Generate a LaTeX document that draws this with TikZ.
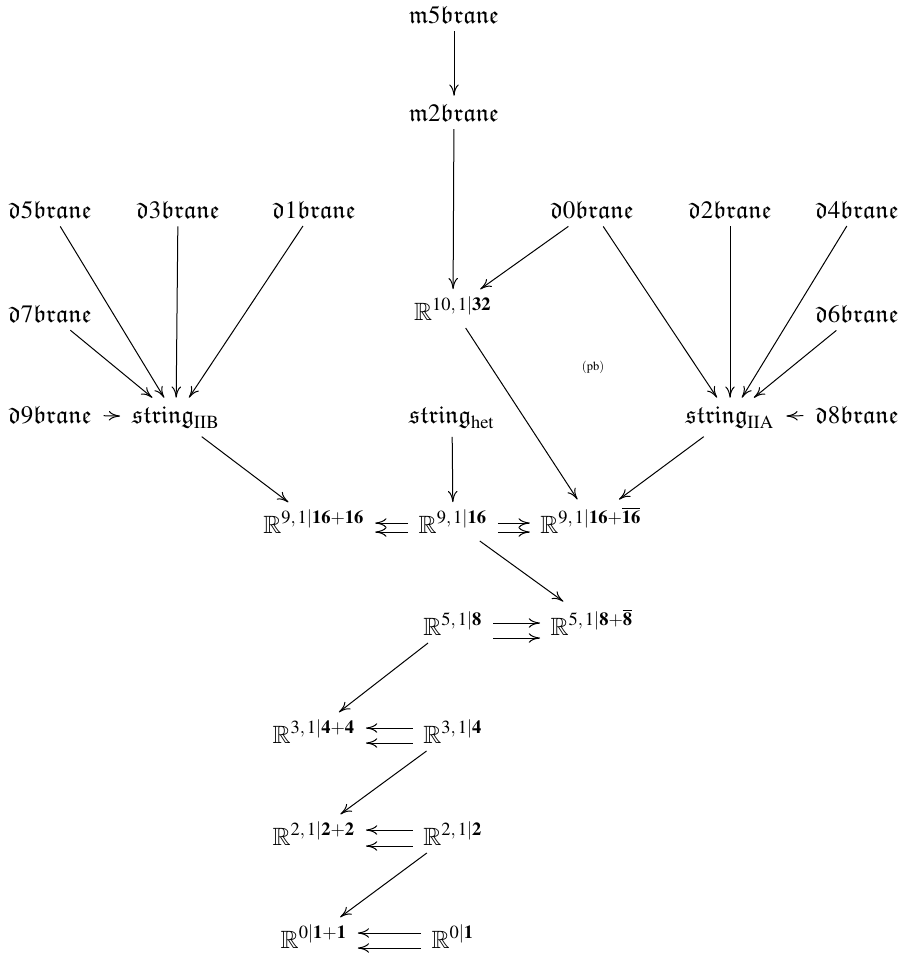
\documentclass[tikz,border=0pt]{standalone}
\usepackage{mathptmx}
\usepackage{amssymb}
\usetikzlibrary{arrows.meta,calc}
\newcommand{\fk}[1]{\mathfrak{#1}}
\newcommand{\dbr}[1]{$\mathfrak{d}#1\mathfrak{brane}$}
\newcommand{\mbr}[1]{$\mathfrak{m}#1\mathfrak{brane}$}
\newcommand{\RR}[1]{\mathbb{R}^{#1}}
\begin{document}
\begin{tikzpicture}[x=0.4pt,y=-0.4pt,
  obj/.style={anchor=base, inner xsep=4pt, inner ysep=3pt},
  ar/.style={-{To[length=4.5pt,width=3.8pt]}, line width=0.4pt}]
\useasboundingbox (0,0) rectangle (910,955);
% row 0-1
\node[obj] (m5) at (454,23) {\mbr{5}};
\node[obj] (m2) at (454,121) {\mbr{2}};
% row 2
\node[obj] (d5) at (50,218) {\dbr{5}};
\node[obj] (d3) at (178,218) {\dbr{3}};
\node[obj] (d1) at (314,218) {\dbr{1}};
\node[obj] (d0) at (592,218) {\dbr{0}};
\node[obj] (d2) at (730,218) {\dbr{2}};
\node[obj] (d4) at (857,218) {\dbr{4}};
% row 3
\node[obj] (d7) at (50,322) {\dbr{7}};
\node[obj] (R10) at (453,320) {$\RR{10,\,1\vert\mathbf{32}}$};
\node[obj] (d6) at (857,322) {\dbr{6}};
\node (pb) at (593,367) {\tiny$(\mathrm{pb})$};
% row 4
\node[obj] (d9) at (50,423) {\dbr{9}};
\node[obj] (sIIB) at (176,423) {$\fk{string}_{\mathrm{IIB}}$};
\node[obj] (shet) at (452,423) {$\fk{string}_{\mathrm{het}}$};
\node[obj] (sIIA) at (730,423) {$\fk{string}_{\mathrm{IIA}}$};
\node[obj] (d8) at (857,423) {\dbr{8}};
% row 5
\node[obj] (Ra) at (314,533) {$\RR{9,\,1\vert\mathbf{16}+\mathbf{16}}$};
\node[obj] (Rb) at (453,533) {$\RR{9,\,1\vert\mathbf{16}}$};
\node[obj] (Rc) at (591,533) {$\RR{9,\,1\vert\mathbf{16}+\overline{\mathbf{16}}}$};
% row 6
\node[obj] (Rd) at (453,635) {$\RR{5,\,1\vert\mathbf{8}}$};
\node[obj] (Re) at (592,635) {$\RR{5,\,1\vert\mathbf{8}+\overline{\mathbf{8}}}$};
% row 7
\node[obj] (Rf) at (314,743) {$\RR{3,\,1\vert\mathbf{4}+\mathbf{4}}$};
\node[obj] (Rg) at (453,743) {$\RR{3,\,1\vert\mathbf{4}}$};
% row 8
\node[obj] (Rh) at (314,845) {$\RR{2,\,1\vert\mathbf{2}+\mathbf{2}}$};
\node[obj] (Ri) at (453,845) {$\RR{2,\,1\vert\mathbf{2}}$};
% row 9
\node[obj] (Rj) at (314,948) {$\RR{0\vert\mathbf{1}+\mathbf{1}}$};
\node[obj] (Rk) at (453,948) {$\RR{0\vert\mathbf{1}}$};
% arrows
\draw[ar] (m5) -- (m2);
\draw[ar] (m2) -- (R10);
\draw[ar] (d0) -- (R10);
\draw[ar] (d5) -- (sIIB);
\draw[ar] (d3) -- (sIIB);
\draw[ar] (d1) -- (sIIB);
\draw[ar] (d7) -- (sIIB);
\draw[ar, shorten <=0.6pt, shorten >=0.6pt] (d9) -- (sIIB);
\draw[ar] (d0) -- (sIIA);
\draw[ar] (d2) -- (sIIA);
\draw[ar] (d4) -- (sIIA);
\draw[ar] (d6) -- (sIIA);
\draw[ar, shorten <=0.6pt, shorten >=0.6pt] (d8) -- (sIIA);
\draw[ar] (sIIB) -- (Ra);
\draw[ar] (shet) -- (Rb);
\draw[ar] (R10) -- (Rc);
\draw[ar] (sIIA) -- (Rc);
\draw[ar] (Rb) -- (Re);
\draw[ar] (Rd) -- (Rf);
\draw[ar] (Rg) -- (Rh);
\draw[ar] (Ri) -- (Rj);
% double arrows
\draw[ar] ($(Rb.base west)+(0,-10)$) -- ($(Ra.base east)+(0,-10)$);
\draw[ar] ($(Rb.base west)+(0,-1)$) -- ($(Ra.base east)+(0,-1)$);
\draw[ar] ($(Rb.base east)+(0,-10)$) -- ($(Rc.base west)+(0,-10)$);
\draw[ar] ($(Rb.base east)+(0,-1)$) -- ($(Rc.base west)+(0,-1)$);
\draw[ar] ($(Rd.base east)+(0,-12)$) -- ($(Re.base west)+(0,-12)$);
\draw[ar] ($(Rd.base east)+(0,3)$) -- ($(Re.base west)+(0,3)$);
\draw[ar] ($(Rg.base west)+(0,-15)$) -- ($(Rf.base east)+(0,-15)$);
\draw[ar] ($(Rg.base west)+(0,0)$) -- ($(Rf.base east)+(0,0)$);
\draw[ar] ($(Ri.base west)+(0,-15)$) -- ($(Rh.base east)+(0,-15)$);
\draw[ar] ($(Ri.base west)+(0,1)$) -- ($(Rh.base east)+(0,1)$);
\draw[ar] ($(Rk.base west)+(0,-15)$) -- ($(Rj.base east)+(0,-15)$);
\draw[ar] ($(Rk.base west)+(0,0)$) -- ($(Rj.base east)+(0,0)$);
\end{tikzpicture}
\end{document}
